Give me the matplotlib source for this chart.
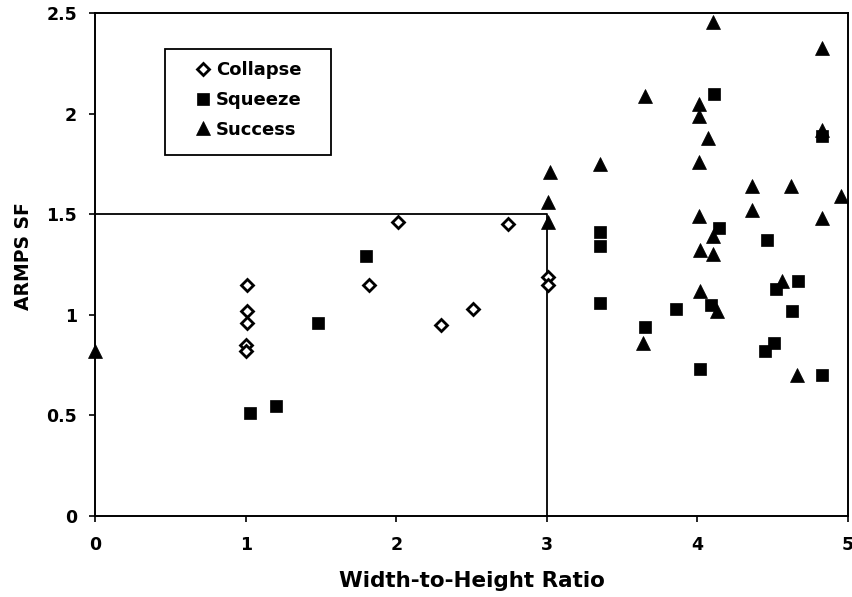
import matplotlib
matplotlib.use('Agg')
import matplotlib.pyplot as plt
from matplotlib.patches import Rectangle
from matplotlib.ticker import FuncFormatter

# data (width-to-height ratio, ARMPS stability factor)
collapse_x = [1.01, 1.01, 1.01, 1.00, 1.00, 1.82, 2.01, 2.30, 2.51, 2.74, 3.01, 3.01]
collapse_y = [1.15, 1.02, 0.96, 0.85, 0.82, 1.15, 1.46, 0.95, 1.03, 1.45, 1.19, 1.15]

squeeze_x = [1.03, 1.20, 1.48, 1.80, 3.35, 3.35, 3.35, 3.65, 3.86, 4.02, 4.11,
             4.09, 4.14, 4.46, 4.45, 4.51, 4.52, 4.63, 4.67, 4.83, 4.83]
squeeze_y = [0.51, 0.545, 0.96, 1.29, 1.41, 1.34, 1.06, 0.94, 1.03, 0.73, 2.10,
             1.05, 1.43, 1.37, 0.82, 0.86, 1.13, 1.02, 1.17, 1.89, 0.70]

success_x = [0.0, 3.02, 3.01, 3.01, 3.35, 3.65, 3.64, 4.01, 4.01, 4.01, 4.01,
             4.02, 4.02, 4.07, 4.10, 4.10, 4.10, 4.13, 4.36, 4.36, 4.56, 4.62,
             4.66, 4.83, 4.83, 4.83, 4.95]
success_y = [0.82, 1.71, 1.56, 1.46, 1.75, 2.09, 0.86, 2.05, 1.99, 1.76, 1.49,
             1.32, 1.12, 1.88, 2.46, 1.39, 1.30, 1.02, 1.64, 1.52, 1.17, 1.64,
             0.70, 2.33, 1.92, 1.48, 1.59]

# design line: SF 1.5 up to w:h 3
guide_x = [0, 3, 3]
guide_y = [1.5, 1.5, 0]

xticks = [0, 1, 2, 3, 4, 5]
yticks = [0, 0.5, 1, 1.5, 2, 2.5]

plt.rcParams['font.family'] = ['DejaVu Sans']
plt.rcParams['font.weight'] = 'bold'

fig = plt.figure(figsize=(8.53, 5.97), dpi=100)
ax = fig.add_axes([0.1114, 0.1365, 0.8828, 0.8409])

ax.plot(guide_x, guide_y, color='black', lw=1.3, zorder=2)

ax.plot(collapse_x, collapse_y, linestyle='none', marker='D', ms=6.4,
        mfc='white', mec='black', mew=2.0, label='Collapse', zorder=3,
        clip_on=False)
ax.plot(squeeze_x, squeeze_y, linestyle='none', marker='s', ms=9,
        mfc='black', mec='black', mew=0.5, label='Squeeze', zorder=3,
        clip_on=False)
ax.plot(success_x, success_y, linestyle='none', marker='^', ms=9.5,
        mfc='black', mec='black', mew=0.5, label='Success', zorder=4,
        clip_on=False)

ax.set_xlim(0, 5)
ax.set_ylim(0, 2.5)
ax.set_xticks(xticks)
ax.set_yticks(yticks)
ax.xaxis.set_major_formatter(FuncFormatter(lambda v, p: '%g' % v))
ax.yaxis.set_major_formatter(FuncFormatter(lambda v, p: '%g' % v))
ax.tick_params(direction='out', length=4.5, width=1.2, labelsize=12.5,
               colors='black')
ax.tick_params(axis='x', pad=10)
ax.tick_params(axis='y', pad=8.5)
for s in ax.spines.values():
    s.set_linewidth(1.4)

ax.set_xlabel('Width-to-Height Ratio', fontsize=15.5, fontweight='bold',
              va='center')
ax.xaxis.set_label_coords(0.5, -0.131)
ax.set_ylabel('ARMPS SF', fontsize=13.5, fontweight='bold', va='center')
ax.yaxis.set_label_coords(-0.095, 0.517)

# legend box drawn separately so its padding can match the original
ax.add_patch(Rectangle((0.093, 0.719), 0.220, 0.211, transform=ax.transAxes,
                       fill=False, ec='black', lw=1.3, zorder=5))
ax.legend(loc='upper left', bbox_to_anchor=(0.1315, 0.905), frameon=False,
          borderpad=0, borderaxespad=0, handlelength=1.0, handletextpad=0.2,
          labelspacing=0.65, numpoints=1, prop={'size': 13, 'weight': 'bold'})

fig.savefig('out.png', dpi=100)
